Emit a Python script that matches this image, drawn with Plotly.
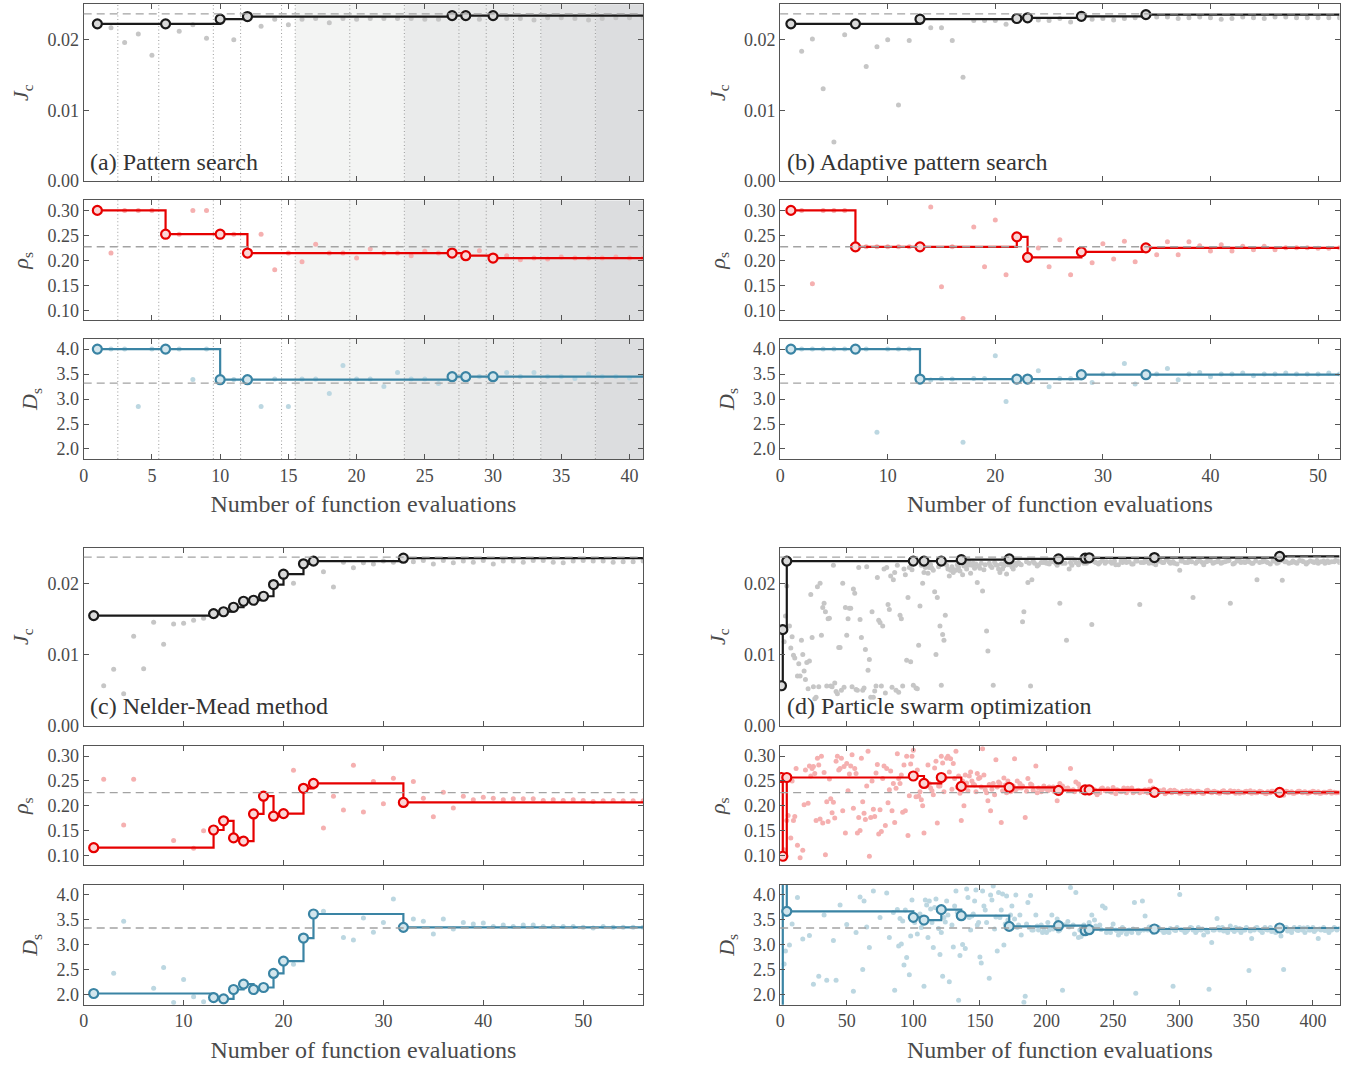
import plotly.graph_objects as go

FONT = "Liberation Serif"

# ---------------- (a) Pattern search ----------------
a_eval = list(range(1, 42))
a_jc = [0.0222, 0.0217, 0.0196, 0.0208, 0.0178, 0.0222, 0.0212, 0.0221, 0.0202, 0.0229,
        0.0200, 0.0233, 0.0219, 0.0229, 0.0221, 0.0229, 0.0230, 0.0224, 0.0230, 0.0229,
        0.0230, 0.0230, 0.0230, 0.0230, 0.0229, 0.0229, 0.0234, 0.0234, 0.0229, 0.0234,
        0.0230, 0.0230, 0.0228, 0.0231, 0.0231, 0.0230, 0.0228, 0.0230, 0.0231, 0.0231, 0.0231]
a_rho = [0.300, 0.2146, 0.300, 0.300, 0.300, 0.2523, 0.2523, 0.300, 0.300, 0.2523,
         0.252, 0.2146, 0.252, 0.181, 0.2146, 0.197, 0.232, 0.2146, 0.2146, 0.2046,
         0.2225, 0.2146, 0.2146, 0.209, 0.218, 0.2146, 0.2146, 0.2093, 0.219, 0.2046,
         0.209, 0.201, 0.2046, 0.2026, 0.2066, 0.2046, 0.2046, 0.2046, 0.2066, 0.2046, 0.2046]
a_ds = [4.0, 4.0, 4.0, 2.85, 4.0, 4.0, 4.0, 3.39, 4.0, 3.39,
        3.39, 3.39, 2.85, 3.40, 2.85, 3.40, 3.40, 3.11, 3.67, 3.40,
        3.40, 3.25, 3.53, 3.40, 3.40, 3.31, 3.447, 3.447, 3.45, 3.447,
        3.53, 3.45, 3.53, 3.45, 3.45, 3.41, 3.50, 3.45, 3.45, 3.42, 3.47]
a_best_x = [1, 6, 10, 12, 27, 28, 30]
a_best_jc = [0.02224, 0.02224, 0.0229, 0.02327, 0.02341, 0.02341, 0.02341]
a_best_rho = [0.300, 0.2523, 0.2523, 0.2146, 0.2146, 0.2093, 0.2046]
a_best_ds = [4.0, 4.0, 3.387, 3.387, 3.447, 3.447, 3.447]
a_mesh_lines = [2.5, 5.5, 9.5, 11.5, 14.5, 15.5, 19.5, 23.5, 27.5, 29.5, 31.5, 33.5, 37.5]
a_bands = [(15.5, 23.5, "#f3f4f3"), (23.5, 33.5, "#eaebeb"), (33.5, 37.5, "#e3e4e5"), (37.5, 41, "#dcdddf")]

# ---------------- (b) Adaptive pattern search ----------------
b_eval = list(range(1, 53))
b_jc = [0.0222, 0.01836, 0.0201, 0.01304, 0.00551, 0.0207, 0.0222, 0.0162, 0.0190, 0.0200,
        0.01075, 0.0199, 0.0229, 0.0217, 0.0217, 0.0199, 0.01467, 0.0227, 0.0227, 0.0227,
        0.0222, 0.0230, 0.0231, 0.0228, 0.0227, 0.0230, 0.0225, 0.0233, 0.0229, 0.0230,
        0.0228, 0.0230, 0.0231, 0.02355, 0.0232, 0.0232, 0.0230, 0.0231, 0.0232, 0.0231,
        0.0229, 0.0230, 0.0232, 0.0231, 0.0230, 0.0232, 0.0232, 0.0231, 0.0231, 0.0231, 0.0231, 0.0231]
b_rho = [0.300, 0.300, 0.153, 0.300, 0.300, 0.300, 0.227, 0.227, 0.227, 0.227,
         0.227, 0.227, 0.227, 0.3066, 0.147, 0.227, 0.0834, 0.267, 0.187, 0.281,
         0.171, 0.247, 0.206, 0.2245, 0.187, 0.241, 0.171, 0.217, 0.195, 0.233,
         0.2026, 0.238, 0.197, 0.225, 0.211, 0.237, 0.211, 0.237, 0.229, 0.2185,
         0.231, 0.2185, 0.228, 0.221, 0.228, 0.221, 0.225, 0.225, 0.225, 0.224, 0.224, 0.225]
b_ds = [4.0, 4.0, 4.0, 4.0, 4.0, 4.0, 4.0, 4.0, 2.333, 4.0,
        4.0, 4.0, 3.40, 3.38, 3.41, 3.40, 2.133, 3.41, 3.41, 3.867,
        2.953, 3.40, 3.40, 3.567, 3.247, 3.41, 3.41, 3.487, 3.333, 3.5,
        3.5, 3.713, 3.3, 3.487, 3.5, 3.613, 3.387, 3.5, 3.533, 3.447,
        3.5, 3.5, 3.52, 3.467, 3.5, 3.5, 3.52, 3.5, 3.5, 3.5, 3.52, 3.5]
b_best_x = [1, 7, 13, 22, 23, 28, 34]
b_best_jc = [0.02224, 0.02224, 0.0229, 0.0230, 0.0231, 0.0233, 0.02355]
b_best_rho = [0.300, 0.227, 0.227, 0.247, 0.206, 0.217, 0.225]
b_best_ds = [4.0, 4.0, 3.40, 3.40, 3.40, 3.487, 3.487]

# ---------------- (c) Nelder-Mead method ----------------
c_eval = list(range(1, 57))
c_jc = [0.01546, 0.00562, 0.00792, 0.0045, 0.01255, 0.0080, 0.01452, 0.01143, 0.01429, 0.01438,
        0.0148, 0.01508, 0.01574, 0.0160, 0.01663, 0.01747, 0.01761, 0.01817, 0.01981, 0.02126,
        0.0200, 0.02272, 0.02309, 0.0216, 0.01948, 0.02295, 0.02215, 0.02286, 0.0227, 0.0231,
        0.02295, 0.02351, 0.0230, 0.0232, 0.0227, 0.0232, 0.02286, 0.0231, 0.02295, 0.0232,
        0.0227, 0.0231, 0.0231, 0.02295, 0.0232, 0.0232, 0.02295, 0.02286, 0.0231, 0.0232,
        0.0231, 0.0231, 0.02295, 0.0230, 0.0230, 0.0231]
c_rho = [0.1152, 0.2536, None, 0.161, 0.2536, None, None, None, 0.1298, None,
         0.114, 0.1497, 0.151, 0.1695, 0.135, 0.1285, 0.1834, 0.2192, 0.1788, 0.1841,
         0.2715, 0.2351, 0.245, 0.155, 0.219, 0.1914, 0.2815, 0.1874, 0.249, 0.204,
         0.2556, 0.2066, 0.249, 0.2152, 0.1775, 0.2272, 0.1954, 0.219, 0.212, 0.217,
         0.2152, 0.212, 0.214, 0.214, 0.214, 0.2106, 0.212, 0.2106, 0.212, 0.2106,
         0.2086, 0.21, 0.2106, 0.21, 0.21, 0.21]
c_ds = [2.027, None, 2.435, 3.472, None, None, 2.134, 2.549, 1.846, 2.308,
        1.96, 1.86, 1.946, 1.92, 2.107, 2.214, 2.107, 2.147, 2.428, 2.676,
        2.615, 3.137, 3.619, 3.672, None, 3.15, 3.097, 3.538, 3.251, 3.451,
        3.92, 3.351, 3.518, 3.472, 3.217, 3.518, 3.318, 3.451, 3.418, 3.438,
        3.371, 3.398, 3.371, 3.398, 3.398, 3.371, 3.371, 3.371, 3.371, 3.351,
        3.338, 3.371, 3.351, 3.351, 3.351, 3.351]
c_best_x = [1, 13, 14, 15, 16, 17, 18, 19, 20, 22, 23, 32]
c_best_jc = [0.01546, 0.01574, 0.0160, 0.01663, 0.01747, 0.01761, 0.01817, 0.01981, 0.02126, 0.02272, 0.02309, 0.02351]
c_best_rho = [0.1152, 0.151, 0.1695, 0.135, 0.1285, 0.1834, 0.2192, 0.1788, 0.1841, 0.2351, 0.245, 0.2066]
c_best_ds = [2.027, 1.946, 1.92, 2.107, 2.214, 2.107, 2.147, 2.428, 2.676, 3.137, 3.619, 3.351]

# ---------------- (d) Particle swarm optimization ----------------
d_jc_x = [3, 4, 5, 7, 8, 10, 11, 13, 15, 17, 18, 19, 20, 22, 23, 24, 25, 26, 27, 28, 29, 30, 31, 32, 33, 34, 35, 36, 37, 38,
          39, 40, 41, 42, 43, 44, 45, 46, 47, 48, 49, 50, 51, 52, 53, 55, 56, 57, 58, 59, 60, 61, 62, 63, 64, 65, 66, 67, 68, 69,
          70, 72, 73, 74, 75, 76, 77, 78, 80, 81, 83, 85, 86, 88, 90, 91, 93, 95, 97, 98, 100, 101, 102, 103, 104, 105, 106, 108, 110, 112,
          114, 116, 117, 118, 119, 120, 121, 122, 123, 124, 126, 128, 130, 132, 134, 137, 139, 141, 145, 148, 150, 152, 155, 156, 158, 160, 162, 165, 167, 170,
          172, 175, 178, 182, 183, 186, 188, 189, 191, 194, 198, 200, 203, 207, 210, 212, 215, 217, 219, 222, 225, 228, 234, 236, 240, 244, 248, 252, 256, 260,
          264, 268, 270, 273, 276, 280, 284, 288, 292, 296, 300, 302, 306, 310, 313, 317, 321, 325, 328, 332, 336, 338, 341, 345, 349, 352, 355, 358, 362, 366,
          370, 373, 377, 380, 384, 388, 392, 396, 400, 404, 408, 412, 416, 419]
d_jc = [0.0118, 0.0154, 0.0196, 0.0140, 0.0109, 0.0099, 0.0095, 0.0070, 0.0070, 0.0100, 0.0077, 0.0065, 0.0089, 0.0091, 0.0184, 0.0124, 0.0055, 0.0038, 0.0040, 0.0195,
        0.0055, 0.0200, 0.0127, 0.0166, 0.0172, 0.0160, 0.0056, 0.0150, 0.0151, 0.0056, 0.0055, 0.0225, 0.0060, 0.0048, 0.0045, 0.0110, 0.0110, 0.0050, 0.0200, 0.0054,
        0.0166, 0.0127, 0.0150, 0.0165, 0.0165, 0.0192, 0.0186, 0.0051, 0.0050, 0.0222, 0.0149, 0.0124, 0.0050, 0.0053, 0.0107, 0.0223, 0.0078, 0.0093, 0.0040, 0.0160,
        0.0040, 0.0056, 0.0208, 0.0148, 0.0145, 0.0056, 0.0140, 0.0220, 0.0222, 0.0170, 0.0210, 0.0205, 0.0215, 0.0225, 0.0155, 0.0150, 0.0220, 0.0092, 0.0222, 0.0090,
        0.0057, 0.0228, 0.0053, 0.0052, 0.0113, 0.0168, 0.0225, 0.0215, 0.0229, 0.0222, 0.0221, 0.0188, 0.0100, 0.0180, 0.0223, 0.0140, 0.0057, 0.0128, 0.0120, 0.0155,
        0.0220, 0.0218, 0.0215, 0.0218, 0.0222, 0.0212, 0.0228, 0.0225, 0.0228, 0.0201, 0.0221, 0.0189, 0.0133, 0.0105, 0.0224, 0.0057, 0.0226, 0.0215, 0.0220, 0.0213,
        0.0227, 0.0220, 0.0228, 0.0146, 0.0160, 0.0201, 0.0056, 0.0205, 0.0228, 0.0226, 0.0229, 0.0228, 0.0230, 0.0228, 0.0172, 0.0228, 0.0120, 0.0220, 0.0225, 0.0229,
        0.0230, 0.0228, 0.0142, 0.0230, 0.0229, 0.0228, 0.0230, 0.0226, 0.0231, 0.0229, 0.0227, 0.0231, 0.0170, 0.0229, 0.0230, 0.0228, 0.0231, 0.0229, 0.0230, 0.0228,
        0.0218, 0.0231, 0.0229, 0.0180, 0.0230, 0.0229, 0.0231, 0.0228, 0.0230, 0.0229, 0.0231, 0.0172, 0.0228, 0.0231, 0.0229, 0.0230, 0.0228, 0.0205, 0.0230, 0.0229,
        0.0231, 0.0228, 0.0204, 0.0230, 0.0229, 0.0228, 0.0231, 0.0229, 0.0230, 0.0228, 0.0231, 0.0229, 0.0230, 0.0231]
# further evaluations (d)
d_jc_x_more = [21, 54, 71, 79, 84, 87, 89, 92, 9, 14, 16, 82, 94, 96, 99, 107, 109, 111, 113, 115,
               125, 127, 129, 131, 133, 135, 138, 140, 142, 143, 144, 146, 147, 149, 151, 153, 154, 157, 159, 161,
               163, 164, 166, 168, 169, 171, 173, 174, 176, 177, 179, 180,
               181, 185, 187, 190, 193, 196, 199, 202, 205, 208, 211, 214, 218, 221, 224, 227, 230, 233, 237, 239,
               242, 245, 249, 251, 254, 257, 259, 262, 265, 267, 271, 274, 277, 279, 282, 285, 287, 290, 293, 295,
               298, 301, 304, 307, 309, 312, 315, 318, 320, 323, 326, 329, 331, 334, 337, 340, 343, 346, 348, 351,
               354, 357, 360, 363, 365, 368, 371, 374, 376, 379, 382, 385, 387, 390, 393, 395, 398, 401, 403, 406,
               409, 411, 414, 417, 420]
d_jc_more = [0.0052, 0.0055, 0.0049, 0.0046, 0.0054, 0.0050, 0.0047, 0.0056, 0.0125, 0.0087, 0.0120, 0.0163, 0.0212, 0.0180, 0.0219, 0.0200, 0.0222, 0.0214, 0.0226, 0.0218,
             0.0225, 0.0210, 0.0223, 0.0219, 0.0226, 0.0217, 0.0224, 0.0220, 0.0229, 0.0214, 0.0225, 0.0221, 0.0227, 0.0224, 0.0228, 0.0219, 0.0226, 0.0228, 0.0222, 0.0229,
             0.0225, 0.0220, 0.0227, 0.0224, 0.0229, 0.0226, 0.0229, 0.0223, 0.0228, 0.0225, 0.0229, 0.0227,
             0.0226, 0.0230, 0.0228, 0.0231, 0.0224, 0.0229, 0.0232, 0.0227, 0.0230, 0.0225, 0.0231, 0.0228, 0.0229, 0.0233, 0.0226, 0.0230, 0.0228, 0.0231, 0.0229, 0.0227,
             0.0232, 0.0230, 0.0228, 0.0231, 0.0226, 0.0229, 0.0232, 0.0230, 0.0227, 0.0231, 0.0229, 0.0232, 0.0228, 0.0230, 0.0226, 0.0231, 0.0229, 0.0233, 0.0228, 0.0230,
             0.0227, 0.0231, 0.0229, 0.0232, 0.0230, 0.0228, 0.0231, 0.0226, 0.0230, 0.0232, 0.0229, 0.0231, 0.0228, 0.0230, 0.0232, 0.0227, 0.0231, 0.0229, 0.0230, 0.0232,
             0.0228, 0.0231, 0.0229, 0.0233, 0.0230, 0.0227, 0.0231, 0.0229, 0.0232, 0.0230, 0.0228, 0.0231, 0.0229, 0.0232, 0.0230, 0.0227, 0.0231, 0.0229, 0.0232, 0.0230,
             0.0228, 0.0231, 0.0230, 0.0232, 0.0229]
d_rho_x = [3, 6, 8, 10, 12, 15, 18, 22, 24, 26, 28, 30, 32, 34, 36, 38, 40, 42, 44, 46, 48, 50, 52, 54, 56, 58, 60, 62, 64, 66,
           67, 68, 70, 72, 74, 76, 78, 80, 82, 84, 86, 88, 89, 90, 92, 94, 96, 98, 99, 100, 102, 104, 106, 108, 110, 112, 114, 116, 118, 120,
           122, 124, 126, 128, 130, 132, 134, 136, 138, 140, 142, 144, 146, 148, 150, 152, 154, 156, 158, 160, 162, 164, 166, 168, 170, 172, 174, 176, 178, 180,
           182, 184, 186, 188, 190, 192, 194, 196, 198, 200, 202, 204, 206, 208, 210, 212, 214, 216, 218, 220, 222, 224, 226, 228, 230, 232, 234, 236, 238, 240,
           242, 244, 246, 248, 250, 252, 254, 256, 258, 260, 262, 264, 266, 268, 270, 272, 274, 276, 278, 280, 282, 284, 286, 288, 290, 292, 294, 296, 298, 300,
           302, 304, 306, 308, 310, 312, 314, 316, 318, 320, 322, 324, 326, 328, 330, 332, 334, 336, 338, 340, 342, 344, 346, 348, 350, 352, 354, 356, 358, 360,
           362, 364, 366, 368, 370, 372, 374, 376, 378, 380, 382, 384, 386, 388, 390, 392, 394, 396, 398, 400, 402, 404, 406, 408, 410, 412, 414, 416, 418, 420]
d_rho = [0.111, 0.180, 0.135, 0.170, 0.275, 0.095, 0.202, 0.280, 0.275, 0.265, 0.296, 0.173, 0.165, 0.101, 0.168, 0.214, 0.207, 0.290, 0.272, 0.296,
         0.279, 0.285, 0.264, 0.303, 0.275, 0.145, 0.150, 0.208, 0.172, 0.310, 0.098, 0.176, 0.193, 0.266, 0.143, 0.148, 0.280, 0.275, 0.232, 0.190,
         0.166, 0.305, 0.255, 0.245, 0.187, 0.190, 0.140, 0.284, 0.300, 0.312, 0.218, 0.219, 0.212, 0.145, 0.240, 0.245, 0.230, 0.276, 0.165, 0.240,
         0.286, 0.256, 0.300, 0.295, 0.285, 0.310, 0.260, 0.170, 0.200, 0.246, 0.260, 0.250, 0.242, 0.265, 0.257, 0.315, 0.232, 0.210, 0.190, 0.245,
         0.293, 0.248, 0.166, 0.256, 0.226, 0.236, 0.230, 0.295, 0.250, 0.245, 0.240, 0.176, 0.255, 0.244, 0.231, 0.280, 0.236, 0.228, 0.240, 0.234,
         0.238, 0.232, 0.228, 0.210, 0.245, 0.240, 0.234, 0.236, 0.275, 0.232, 0.248, 0.244, 0.232, 0.236, 0.226, 0.225, 0.234, 0.232, 0.222, 0.226,
         0.236, 0.230, 0.234, 0.228, 0.237, 0.224, 0.230, 0.228, 0.236, 0.226, 0.231, 0.236, 0.228, 0.230, 0.226, 0.229, 0.232, 0.226, 0.250, 0.236,
         0.230, 0.226, 0.229, 0.232, 0.226, 0.229, 0.226, 0.231, 0.228, 0.225, 0.229, 0.227, 0.224, 0.230, 0.228, 0.226, 0.229, 0.227, 0.225, 0.230,
         0.228, 0.226, 0.229, 0.227, 0.225, 0.229, 0.227, 0.226, 0.230, 0.228, 0.225, 0.229, 0.227, 0.226, 0.229, 0.227, 0.225, 0.228, 0.226, 0.229,
         0.227, 0.225, 0.228, 0.226, 0.229, 0.227, 0.225, 0.228, 0.221, 0.229, 0.226, 0.228, 0.225, 0.227, 0.229, 0.226, 0.228, 0.225, 0.227, 0.229,
         0.226, 0.228, 0.225, 0.227, 0.226, 0.228, 0.225, 0.227, 0.226, 0.226]
d_rho_x_more = [5, 9, 11, 13, 17, 19, 21, 23, 25, 27, 29, 31, 33, 35, 37, 39, 41, 43, 45, 47,
                49, 51, 53, 55, 57, 59, 61, 63, 65, 69, 71, 73, 75, 77, 79, 81, 83, 85, 87, 91,
                93, 95, 97, 101, 103, 105, 107, 109, 111, 113, 115, 117, 119, 121, 123, 125, 127, 129, 131, 133,
                135, 137, 139, 141, 143, 145, 147, 149, 151, 153, 155, 157, 159, 161, 163, 165, 167, 169, 171, 173,
                175, 177, 179,
                181, 185, 189, 193, 197, 201, 205, 209, 213, 217, 221, 225, 229, 233, 237, 241, 245, 249, 253, 257,
                261, 265, 269, 273, 277, 281, 285, 289, 293, 297, 301, 305, 309, 313, 317, 321, 325, 329, 333, 337,
                341, 345, 349, 353, 357, 361, 365, 369, 373, 377, 381, 385, 389, 393, 397, 401, 405, 409, 413, 417]
d_rho_more = [0.170, 0.250, 0.178, 0.120, 0.110, 0.272, 0.205, 0.260, 0.279, 0.170, 0.282, 0.300, 0.267, 0.208, 0.254, 0.186, 0.175, 0.300, 0.275, 0.190,
              0.145, 0.230, 0.280, 0.195, 0.265, 0.176, 0.296, 0.185, 0.240, 0.250, 0.178, 0.283, 0.192, 0.255, 0.160, 0.206, 0.270, 0.245, 0.235, 0.262,
              0.282, 0.300, 0.220, 0.262, 0.272, 0.228, 0.200, 0.250, 0.282, 0.236, 0.222, 0.290, 0.240, 0.300, 0.228, 0.296, 0.268, 0.233, 0.255, 0.238,
              0.225, 0.250, 0.262, 0.230, 0.268, 0.244, 0.228, 0.255, 0.238, 0.262, 0.226, 0.243, 0.233, 0.222, 0.238, 0.245, 0.230, 0.242, 0.250, 0.228,
              0.240, 0.232, 0.236,
              0.236, 0.229, 0.242, 0.226, 0.233, 0.230, 0.238, 0.224, 0.235, 0.231, 0.228, 0.237, 0.233, 0.229, 0.226, 0.234, 0.230, 0.227, 0.232, 0.229,
              0.235, 0.226, 0.231, 0.228, 0.233, 0.227, 0.230, 0.224, 0.231, 0.228, 0.226, 0.230, 0.227, 0.229, 0.225, 0.231, 0.228, 0.226, 0.230, 0.227,
              0.229, 0.225, 0.228, 0.230, 0.226, 0.228, 0.224, 0.229, 0.227, 0.226, 0.228, 0.225, 0.229, 0.227, 0.226, 0.228, 0.225, 0.227, 0.229, 0.226]
d_ds_x = [3, 4, 7, 22, 29, 35, 40, 42, 50, 55, 60, 62, 65, 70, 80, 82, 86, 88, 89, 90, 92, 93, 94, 95, 98, 99, 101, 103, 106, 108,
          110, 112, 114, 116, 117, 119, 120, 122, 124, 126, 127, 130, 132, 133, 134, 135, 137, 139, 140, 142, 144, 146, 148, 150, 151, 152, 154, 155, 157, 158,
          160, 162, 164, 166, 168, 170, 171, 173, 175, 177, 179, 181, 183, 184, 186, 188, 190, 192, 194, 196, 198, 200, 202, 204, 206, 208, 210, 212, 214, 216,
          218, 220, 222, 224, 226, 228, 230, 232, 234, 236, 238, 240, 242, 244, 246, 248, 250, 252, 254, 256, 258, 260, 262, 264, 266, 267, 268, 270, 272, 274,
          276, 278, 280, 282, 284, 286, 288, 290, 292, 295, 296, 298, 300, 302, 304, 306, 308, 310, 312, 314, 316, 318, 320, 322, 324, 326, 328, 330, 332, 334,
          336, 338, 340, 342, 344, 346, 348, 350, 352, 354, 356, 358, 360, 362, 364, 366, 368, 370, 372, 374, 376, 378, 380, 382, 384, 386, 388, 390, 392, 394,
          396, 398, 400, 402, 404, 406, 408, 410, 412, 414, 416, 418, 420]
d_ds = [2.62, 2.88, 3.00, 3.19, 2.37, 2.29, 3.09, 2.29, 3.41, 2.07, 3.96, 2.51, 3.36, 4.08, 4.04, 3.15, 2.09, 3.71, 2.98, 3.53,
        3.48, 2.60, 3.70, 2.75, 3.18, 3.90, 3.45, 3.22, 3.35, 2.17, 3.80, 3.88, 3.45, 3.75, 3.92, 3.33, 2.81, 2.37, 3.46, 3.60,
        2.26, 2.96, 4.08, 3.65, 1.89, 2.79, 3.01, 2.93, 4.12, 3.55, 3.58, 3.88, 3.40, 2.76, 2.64, 4.08, 3.70, 3.45, 2.33, 4.00,
        4.18, 3.56, 4.05, 3.70, 3.00, 3.98, 3.50, 3.60, 3.37, 4.00, 3.40, 3.20, 1.85, 1.97, 3.85, 3.99, 3.30, 3.60, 3.30, 3.40,
        3.30, 3.25, 3.30, 3.60, 3.35, 3.52, 3.30, 2.09, 3.40, 3.47, 4.15, 3.40, 4.05, 3.15, 3.17, 3.40, 3.25, 3.45, 3.60, 3.50,
        3.34, 3.40, 3.78, 3.74, 3.30, 3.25, 3.42, 3.30, 3.20, 3.25, 3.30, 3.22, 3.30, 3.25, 3.85, 2.03, 3.30, 3.28, 3.88, 3.58,
        3.30, 3.30, 3.25, 3.30, 3.35, 3.30, 3.25, 3.30, 3.25, 2.17, 3.30, 3.35, 4.01, 3.30, 3.25, 3.30, 3.35, 3.30, 3.25, 3.35,
        3.30, 3.20, 3.30, 2.11, 3.05, 3.30, 3.53, 3.30, 3.35, 3.30, 3.25, 3.38, 3.30, 3.35, 3.30, 3.25, 3.30, 3.35, 2.49, 3.13,
        3.30, 3.35, 3.30, 3.25, 3.35, 3.30, 3.35, 3.30, 3.25, 3.30, 3.18, 2.51, 3.35, 3.30, 3.25, 3.35, 3.30, 3.35, 3.30, 3.25,
        3.35, 3.30, 3.35, 3.30, 3.13, 3.30, 3.35, 3.30, 3.25, 3.30, 3.35, 3.30, 3.33]
d_ds_x_more = [9, 13, 17, 25, 33, 45, 57, 63, 67, 75, 85, 91, 97, 105, 109, 111, 113, 115, 121, 123,
               125, 129, 131, 141, 143, 145, 147, 149, 153, 159, 161, 163, 165, 167, 169, 174, 176, 178, 180,
               187, 185, 189, 193, 197, 201, 205, 209, 213, 217, 221, 225, 229, 233, 237, 241, 245, 249, 253, 257,
               261, 265, 269, 273, 277, 281, 285, 289, 293, 297, 301, 305, 309, 313, 317, 321, 325, 329, 333, 337,
               341, 345, 349, 353, 357, 361, 365, 369, 373, 377, 381, 385, 389, 393, 397, 401, 405, 409, 413, 417]
d_ds_more = [3.42, 3.95, 3.12, 2.21, 3.60, 3.80, 3.25, 3.88, 2.95, 3.55, 3.65, 3.02, 2.40, 3.62, 3.90, 3.15, 3.72, 2.95, 3.25, 3.55,
             3.88, 3.40, 3.78, 3.95, 3.30, 3.62, 4.10, 3.45, 3.78, 3.90, 3.32, 2.88, 3.55, 4.02, 3.42, 3.78, 3.52, 3.35, 3.60,
             3.35, 3.42, 3.30, 3.38, 3.25, 3.45, 3.32, 3.28, 3.40, 3.36, 3.22, 3.30, 3.34, 3.27, 3.38, 3.31, 3.25, 3.33, 3.29, 3.35,
             3.27, 3.32, 3.24, 3.30, 3.36, 3.28, 3.31, 3.26, 3.33, 3.29, 3.31, 3.27, 3.34, 3.29, 3.32, 3.26, 3.30, 3.35, 3.28, 3.31,
             3.27, 3.33, 3.30, 3.28, 3.34, 3.29, 3.31, 3.27, 3.33, 3.30, 3.28, 3.32, 3.29, 3.34, 3.30, 3.27, 3.32, 3.29, 3.31, 3.33]
d_best_x = [1, 2, 5, 100, 108, 121, 136, 172, 209, 229, 232, 281, 375]
d_best_jc = [0.00562, 0.01349, 0.0231, 0.0231, 0.0231, 0.0231, 0.0233, 0.0234, 0.0234, 0.02351, 0.02356, 0.0236, 0.02375]
d_best_rho = [0.257, 0.098, 0.257, 0.260, 0.245, 0.257, 0.239, 0.237, 0.231, 0.232, 0.232, 0.227, 0.227]
d_best_ds = [1.5, 4.6, 3.672, 3.552, 3.498, 3.706, 3.585, 3.371, 3.385, 3.284, 3.304, 3.318, 3.338]

# reference (dashed) values: Jc, rho_s, D_s
ref_a = [0.02364, 0.2272, 3.32]
ref_b = [0.02364, 0.2272, 3.32]
ref_c = [0.02365, 0.2265, 3.338]
ref_d = [0.02365, 0.2265, 3.338]

titles = ["(a) Pattern search", "(b) Adaptive pattern search", "(c) Nelder-Mead method", "(d) Particle swarm optimization"]
x_max = [41, 52, 56, 420]
x_dtick = [5, 10, 10, 50]

jc_ticks = [0.0, 0.01, 0.02]
rho_ticks = [0.10, 0.15, 0.20, 0.25, 0.30]
ds_ticks = [2.0, 2.5, 3.0, 3.5, 4.0]
jc_range = [0, 0.025]
rho_range = [0.08, 0.32]
ds_range = [1.8, 4.2]

# ---------------- styling ----------------
DOT = ["#c6c6c6", "#f5b0b0", "#bcd7e1"]
LINE = ["#1a1a1a", "#e60000", "#3a84a4"]
FILL = ["#dadada", "#fbd6d6", "#d3e6ed"]
AXC = "#555555"
TXC = "#4a4a4a"

W, H = 1355, 1072
col_x = [(79 / W, 640.5 / W), (778 / W, 1339.5 / W)]
row_y = [
    [(182.7, 4.4), (323.3, 202.3), (463.3, 342.3)],
    [(732.7, 552.7), (873.3, 753.3), (1014.3, 893.3)],
]

panels = [
    dict(col=0, row=0, evals=[a_eval, a_eval, a_eval], vals=[a_jc, a_rho, a_ds],
         best=[a_best_jc, a_best_rho, a_best_ds], bx=a_best_x, ref=ref_a),
    dict(col=1, row=0, evals=[b_eval, b_eval, b_eval], vals=[b_jc, b_rho, b_ds],
         best=[b_best_jc, b_best_rho, b_best_ds], bx=b_best_x, ref=ref_b),
    dict(col=0, row=1, evals=[c_eval, c_eval, c_eval], vals=[c_jc, c_rho, c_ds],
         best=[c_best_jc, c_best_rho, c_best_ds], bx=c_best_x, ref=ref_c),
    dict(col=1, row=1,
         evals=[d_jc_x + d_jc_x_more, d_rho_x + d_rho_x_more, d_ds_x + d_ds_x_more],
         vals=[d_jc + d_jc_more, d_rho + d_rho_more, d_ds + d_ds_more],
         best=[d_best_jc, d_best_rho, d_best_ds], bx=d_best_x, ref=ref_d),
]

ytitles = ["<i>J</i><sub>c</sub>", "<i>ρ</i><sub>s</sub>", "<i>D</i><sub>s</sub>"]
yticks = [jc_ticks, rho_ticks, ds_ticks]
yfmt = [".2f", ".2f", ".1f"]
yranges = [jc_range, rho_range, ds_range]

fig = go.Figure()
layout = {}
shapes = []
annotations = []

for p, pan in enumerate(panels):
    for s in range(3):
        n = p * 3 + s + 1
        xa = "x" if n == 1 else f"x{n}"
        ya = "y" if n == 1 else f"y{n}"
        xmax = x_max[p]
        fig.add_trace(go.Scatter(x=pan["evals"][s], y=pan["vals"][s], mode="markers",
                                 marker=dict(size=5, color=DOT[s]), xaxis=xa, yaxis=ya,
                                 showlegend=False, hoverinfo="skip"))
        bx = pan["bx"]
        by = pan["best"][s]
        fig.add_trace(go.Scatter(x=bx + [xmax], y=by + [by[-1]], mode="lines",
                                 line=dict(color=LINE[s], width=2.2, shape="hv"),
                                 xaxis=xa, yaxis=ya, showlegend=False, hoverinfo="skip"))
        fig.add_trace(go.Scatter(x=bx, y=by, mode="markers",
                                 marker=dict(size=9, color=FILL[s], line=dict(color=LINE[s], width=2.2)),
                                 xaxis=xa, yaxis=ya, showlegend=False, hoverinfo="skip"))
        x0, x1 = col_x[pan["col"]]
        yb, yt = row_y[pan["row"]][s]
        common = dict(showline=True, linecolor=AXC, linewidth=1, mirror="ticks", ticks="inside",
                      ticklen=5, tickcolor=AXC, tickwidth=1, showgrid=False, zeroline=False,
                      tickfont=dict(family=FONT, size=18, color=TXC))
        xdict = dict(common, domain=[x0, x1], anchor=ya, range=[0, xmax], dtick=x_dtick[p], tick0=0,
                     showticklabels=(s == 2))
        if s == 2:
            xdict["title"] = dict(text="Number of function evaluations",
                                  font=dict(family=FONT, size=24, color=TXC), standoff=10)
        layout["xaxis" if n == 1 else f"xaxis{n}"] = xdict
        layout["yaxis" if n == 1 else f"yaxis{n}"] = dict(
            common, domain=[1 - yb / H, 1 - yt / H], anchor=xa, range=yranges[s],
            tickvals=yticks[s], tickformat=yfmt[s],
            title=dict(text=ytitles[s], font=dict(family=FONT, size=22, color=TXC), standoff=12))
        shapes.append(dict(type="line", xref=f"{xa} domain", yref=ya, x0=0, x1=1,
                           y0=pan["ref"][s], y1=pan["ref"][s],
                           line=dict(color="#a3a3a3", width=1.3, dash="8px,5px"), layer="above"))
        if p == 0:
            for (b0, b1, col) in a_bands:
                shapes.append(dict(type="rect", xref=xa, yref=f"{ya} domain", x0=b0, x1=b1, y0=0, y1=1,
                                   fillcolor=col, line=dict(width=0), layer="below"))
            for xv in a_mesh_lines:
                shapes.append(dict(type="line", xref=xa, yref=f"{ya} domain", x0=xv, x1=xv, y0=0, y1=1,
                                   line=dict(color="#8f8f8f", width=0.9, dash="1px,2.5px"), layer="below"))
        if s == 0:
            annotations.append(dict(text=titles[p], xref=f"{xa} domain", yref=f"{ya} domain",
                                    x=0.008, y=0.025, xanchor="left", yanchor="bottom", showarrow=False,
                                    font=dict(family=FONT, size=24, color="#333333")))

layout.update(dict(width=W, height=H, margin=dict(l=0, r=0, t=0, b=0),
                   paper_bgcolor="white", plot_bgcolor="white",
                   shapes=shapes, annotations=annotations, showlegend=False))
fig.update_layout(**layout)
fig.write_html("out.html")
